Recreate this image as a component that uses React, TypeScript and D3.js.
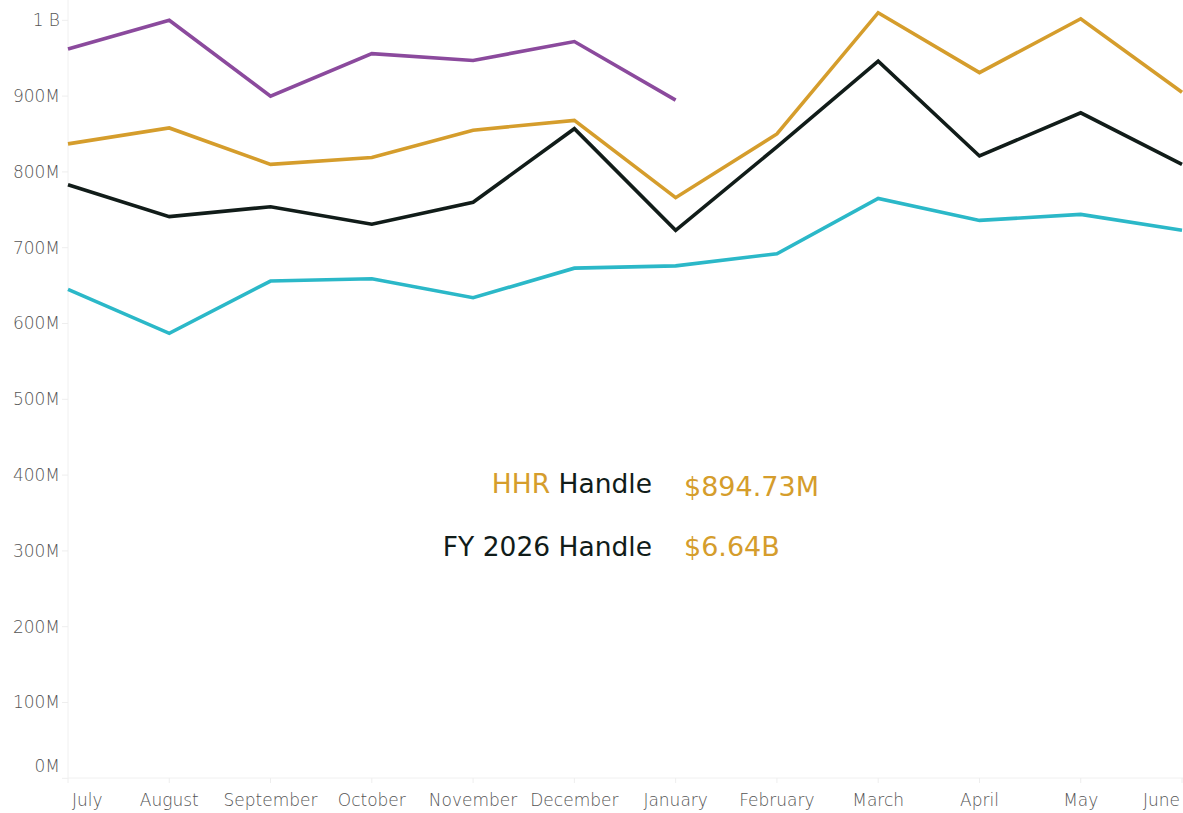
import React, { useEffect, useRef } from 'react';
import * as d3 from 'd3';

const months = ['July', 'August', 'September', 'October', 'November', 'December', 'January', 'February', 'March', 'April', 'May', 'June'];
const yTicks = [0, 100, 200, 300, 400, 500, 600, 700, 800, 900, 1000];
const yTickLabels = ['0M', '100M', '200M', '300M', '400M', '500M', '600M', '700M', '800M', '900M', '1 B'];

// values in millions
const purpleSeries = [962, 1000, 900, 956, 947, 972, 894.73];
const goldSeries = [837, 858, 810, 819, 855, 868, 766, 850, 1010, 931, 1002, 905];
const blackSeries = [783, 741, 754, 731, 760, 857, 723, 833, 946, 821, 878, 810];
const cyanSeries = [645, 587, 656, 659, 634, 673, 676, 692, 765, 736, 744, 723];

const hhrLabel = 'HHR';
const hhrValue = '$894.73M';
const fyValue = '$6.64B';

const W = 1183;
const H = 813;
const font = '"DejaVu Sans", sans-serif';

function App() {
  const ref = useRef(null);

  useEffect(() => {
    const svg = d3.select(ref.current);
    svg.selectAll('*').remove();

    const x = d3.scalePoint().domain(months).range([68, 1182]);
    const y = d3.scaleLinear().domain([0, 1000]).range([778.3, 20.3]);

    // axis lines
    svg.append('line')
      .attr('x1', 68).attr('x2', 68).attr('y1', 0).attr('y2', 778)
      .attr('stroke', '#f0f0f0').attr('stroke-width', 1);
    svg.append('line')
      .attr('x1', 68).attr('x2', W).attr('y1', 778).attr('y2', 778)
      .attr('stroke', '#f0f0f0').attr('stroke-width', 1);

    // y ticks + labels
    const yg = svg.append('g');
    yg.selectAll('line').data(yTicks).enter().append('line')
      .attr('x1', 62).attr('x2', 68)
      .attr('y1', d => y(d)).attr('y2', d => y(d))
      .attr('stroke', '#eeeeee');
    yg.selectAll('text').data(yTicks).enter().append('text')
      .attr('x', 60)
      .attr('y', d => Math.min(y(d), 766))
      .attr('dy', '0.35em')
      .attr('text-anchor', 'end')
      .attr('font-family', font)
      .attr('font-weight', 300)
      .attr('font-size', 17)
      .attr('fill', '#555555')
      .text((d, i) => yTickLabels[i]);

    // x ticks + labels
    const xg = svg.append('g');
    xg.selectAll('line').data(months).enter().append('line')
      .attr('x1', d => x(d)).attr('x2', d => x(d))
      .attr('y1', 778).attr('y2', 783)
      .attr('stroke', '#eeeeee');
    xg.selectAll('text').data(months).enter().append('text')
      .attr('x', (d, i) => i === 0 ? 72 : i === months.length - 1 ? 1180 : x(d))
      .attr('y', 806)
      .attr('text-anchor', (d, i) => i === 0 ? 'start' : i === months.length - 1 ? 'end' : 'middle')
      .attr('font-family', font)
      .attr('font-weight', 300)
      .attr('font-size', 17)
      .attr('fill', '#555555')
      .text(d => d);

    const line = d3.line()
      .x((d, i) => x(months[i]))
      .y(d => y(d))
      .curve(d3.curveLinear);

    const series = [
      { data: purpleSeries, color: '#8b4a9d' },
      { data: goldSeries, color: '#d59d2c' },
      { data: blackSeries, color: '#111c19' },
      { data: cyanSeries, color: '#2bb8c8' },
    ];
    series.forEach(s => {
      svg.append('path')
        .datum(s.data)
        .attr('d', line)
        .attr('fill', 'none')
        .attr('stroke', s.color)
        .attr('stroke-width', 3.6)
        .attr('stroke-linejoin', 'miter');
    });

    // summary text
    const t1 = svg.append('text')
      .attr('x', 652).attr('y', 493)
      .attr('text-anchor', 'end')
      .attr('font-family', font)
      .attr('font-size', 26.5);
    t1.append('tspan').attr('fill', '#d59d2c').text(hhrLabel + ' ');
    t1.append('tspan').attr('fill', '#111c19').text('Handle');

    svg.append('text')
      .attr('x', 652).attr('y', 556)
      .attr('text-anchor', 'end')
      .attr('font-family', font)
      .attr('font-size', 26.5)
      .attr('fill', '#111c19')
      .text('FY 2026 Handle');

    svg.append('text')
      .attr('x', 684).attr('y', 496)
      .attr('font-family', font)
      .attr('font-size', 27)
      .attr('fill', '#d59d2c')
      .text(hhrValue);
    svg.append('text')
      .attr('x', 684).attr('y', 556)
      .attr('font-family', font)
      .attr('font-size', 27)
      .attr('fill', '#d59d2c')
      .text(fyValue);
  }, []);

  return (
    <svg ref={ref} width={W} height={H}
      style={{ position: 'absolute', left: 0, top: 0, background: '#fff' }} />
  );
}

export default App;
